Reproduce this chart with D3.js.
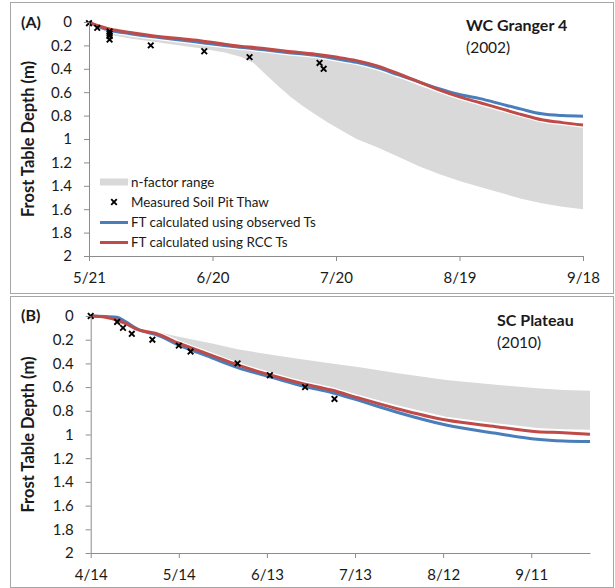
<!DOCTYPE html>
<html><head><meta charset="utf-8">
<script src="https://cdn.jsdelivr.net/npm/d3@7"></script>
<style>
body{margin:0;background:#fff}
text{font-family:Lato,'Open Sans',sans-serif;fill:#1a1a1a}
</style>
</head><body>
<svg id="c" width="615" height="588"></svg>
<script>
// ---------- Panel A: WC Granger 4 (2002) ----------
const aTickLabels = ["2002-05-21","2002-06-20","2002-07-20","2002-08-19","2002-09-18"];
const aLineDates = ["2002-05-21","2002-05-23","2002-05-26","2002-05-31","2002-06-05","2002-06-10","2002-06-17","2002-06-25","2002-07-02","2002-07-08","2002-07-15","2002-07-20","2002-07-25","2002-07-30","2002-08-04","2002-08-09","2002-08-14","2002-08-19","2002-08-24","2002-08-29","2002-09-03","2002-09-08","2002-09-13","2002-09-18"];
const aObservedTs = [0,0.035,0.07,0.10,0.125,0.145,0.175,0.21,0.235,0.26,0.285,0.315,0.345,0.39,0.45,0.51,0.57,0.62,0.655,0.70,0.745,0.785,0.80,0.805];
const aRccTs      = [0,0.03,0.06,0.09,0.115,0.135,0.16,0.20,0.225,0.25,0.275,0.30,0.33,0.375,0.44,0.51,0.58,0.64,0.69,0.74,0.79,0.835,0.86,0.88];
const aBandDates = ["2002-05-21","2002-05-26","2002-05-31","2002-06-05","2002-06-10","2002-06-17","2002-06-23","2002-06-27","2002-06-30","2002-07-03","2002-07-06","2002-07-09","2002-07-12","2002-07-15","2002-07-18","2002-07-22","2002-07-25","2002-07-30","2002-08-04","2002-08-09","2002-08-14","2002-08-19","2002-08-24","2002-08-29","2002-09-03","2002-09-08","2002-09-13","2002-09-18"];
const aBandUpper = [0,0.09,0.12,0.14,0.16,0.19,0.215,0.23,0.24,0.252,0.262,0.272,0.283,0.295,0.31,0.34,0.36,0.41,0.47,0.54,0.60,0.66,0.71,0.76,0.81,0.85,0.875,0.895];
const aBandLower = [0,0.11,0.14,0.165,0.19,0.225,0.26,0.30,0.35,0.45,0.55,0.64,0.72,0.79,0.86,0.94,1.0,1.07,1.15,1.23,1.30,1.36,1.41,1.46,1.51,1.55,1.58,1.60];
const aPitDates  = ["2002-05-21","2002-05-23","2002-05-26","2002-05-26","2002-05-26","2002-05-26","2002-06-05","2002-06-18","2002-06-29","2002-07-16","2002-07-17"];
const aPitDepths = [0.01,0.05,0.08,0.10,0.12,0.15,0.20,0.25,0.30,0.35,0.40];

// ---------- Panel B: SC Plateau (2010) ----------
const bTickLabels = ["2010-04-14","2010-05-14","2010-06-13","2010-07-13","2010-08-12","2010-09-11"];
const bDomainEnd = "2010-10-01";
const bLineDates = ["2010-04-14","2010-04-19","2010-04-23","2010-04-26","2010-04-30","2010-05-02","2010-05-06","2010-05-14","2010-05-25","2010-06-03","2010-06-15","2010-06-26","2010-07-05","2010-07-14","2010-07-27","2010-08-13","2010-08-30","2010-09-13","2010-09-22","2010-10-01"];
const bObservedTs = [0,0.005,0.01,0.05,0.11,0.13,0.155,0.245,0.35,0.435,0.52,0.595,0.645,0.71,0.81,0.92,0.99,1.04,1.055,1.06];
const bRccTs      = [0,0.01,0.034,0.065,0.115,0.127,0.146,0.23,0.33,0.413,0.504,0.575,0.625,0.69,0.78,0.878,0.934,0.976,0.985,0.998];
const bBandUpper  = [0,0.01,0.02,0.04,0.09,0.11,0.13,0.175,0.23,0.28,0.33,0.37,0.40,0.43,0.48,0.54,0.58,0.61,0.625,0.63];
const bBandLower  = [0,0.03,0.06,0.09,0.12,0.13,0.14,0.22,0.32,0.40,0.49,0.555,0.60,0.665,0.75,0.85,0.905,0.945,0.955,0.96];
const bPitDates  = ["2010-04-14","2010-04-23","2010-04-25","2010-04-28","2010-05-05","2010-05-14","2010-05-18","2010-06-03","2010-06-14","2010-06-26","2010-07-06"];
const bPitDepths = [0,0.05,0.10,0.15,0.20,0.25,0.30,0.40,0.50,0.60,0.70];

const depthTicks = [0,0.2,0.4,0.6,0.8,1,1.2,1.4,1.6,1.8,2];
const legendLabels = ["n-factor range","Measured Soil Pit Thaw","FT calculated using observed Ts","FT calculated using RCC Ts"];

const COL_BLUE = "#4a7ebb", COL_RED = "#be4b48", COL_BAND = "#d9d9d9", COL_AXIS = "#8c8c8c";
const parse = d3.timeParse("%Y-%m-%d");
const svg = d3.select("#c");

function drawPanel(o) {
  const g = svg.append("g");
  g.append("rect").attr("x", o.box[0]+0.5).attr("y", o.box[1]+0.5)
    .attr("width", o.box[2]).attr("height", o.box[3])
    .attr("fill", "#fff").attr("stroke", "#a6a6a6").attr("stroke-width", 1);

  const ticks = o.ticks.map(parse);
  const x = d3.scaleTime().domain([ticks[0], parse(o.domainEnd)]).range(o.xr);
  const y = d3.scaleLinear().domain([0, 2]).range(o.yr);

  const band = o.bandDates.map((d, i) => ({d: parse(d), u: o.bandUpper[i], l: o.bandLower[i]}));
  g.append("path").datum(band).attr("fill", COL_BAND)
    .attr("d", d3.area().x(p => x(p.d)).y0(p => y(p.u)).y1(p => y(p.l)));

  const mk = vals => o.lineDates.map((d, i) => ({d: parse(d), v: vals[i]}));
  const line = d3.line().x(p => x(p.d)).y(p => y(p.v)).curve(d3.curveMonotoneX);
  const series = [{v: o.obs, c: COL_BLUE}, {v: o.rcc, c: COL_RED}];
  series.forEach(s => g.append("path").datum(mk(s.v)).attr("fill", "none")
    .attr("stroke", "#fff").attr("stroke-width", 5.5).attr("d", line));
  series.forEach(s => g.append("path").datum(mk(s.v)).attr("fill", "none")
    .attr("stroke", s.c).attr("stroke-width", 3).attr("stroke-linejoin", "round").attr("d", line));

  const xs = 2.8;
  g.selectAll(".pit").data(o.pitDates.map((d, i) => ({d: parse(d), v: o.pitDepths[i]})))
    .join("path").attr("fill", "none").attr("stroke", "#000").attr("stroke-width", 1.9)
    .attr("d", p => {const cx = x(p.d), cy = y(p.v);
      return `M${cx-xs},${cy-xs}L${cx+xs},${cy+xs}M${cx-xs},${cy+xs}L${cx+xs},${cy-xs}`;});

  const xa = g.append("g").attr("transform", `translate(0,${o.yr[1]})`)
    .call(d3.axisBottom(x).tickValues(ticks).tickFormat(d3.timeFormat("%-m/%-d"))
      .tickSize(5).tickSizeOuter(0).tickPadding(11));
  const ya = g.append("g").attr("transform", `translate(${o.xr[0]},0)`)
    .call(d3.axisLeft(y).tickValues(depthTicks).tickFormat(d => String(+d.toFixed(1)))
      .tickSize(5).tickSizeOuter(0).tickPadding(12));
  [xa, ya].forEach(a => {
    a.select(".domain").attr("stroke", COL_AXIS);
    a.selectAll(".tick line").attr("stroke", COL_AXIS);
    a.selectAll(".tick text").attr("font-size", 15).attr("font-family", "Lato").attr("fill", "#1a1a1a");
  });

  g.append("text").attr("transform", `translate(34,${(o.yr[0]+o.yr[1])/2}) rotate(-90)`)
    .attr("text-anchor", "middle").attr("font-weight", "bold").attr("font-size", 16.5)
    .text("Frost Table Depth (m)");
  g.append("text").attr("x", 21).attr("y", o.panelY).attr("font-weight", "bold").attr("font-size", 16)
    .text(o.panel);
  g.append("text").attr("x", o.siteX).attr("y", o.siteY).attr("font-weight", "bold").attr("font-size", 16)
    .text(o.site);
  g.append("text").attr("x", o.siteX).attr("y", o.siteY + 22).attr("font-size", 15.5)
    .text(o.year);
  return {g, x, y};
}

drawPanel({box: [10, 2, 603, 291], ticks: aTickLabels, domainEnd: "2002-09-18",
  xr: [89, 583], yr: [22, 256], lineDates: aLineDates, obs: aObservedTs, rcc: aRccTs,
  bandDates: aBandDates, bandUpper: aBandUpper, bandLower: aBandLower,
  pitDates: aPitDates, pitDepths: aPitDepths, panel: "(A)", panelY: 28,
  site: "WC Granger 4", year: "(2002)", siteX: 466, siteY: 31});

drawPanel({box: [10, 296, 603, 291], ticks: bTickLabels, domainEnd: bDomainEnd,
  xr: [90.7, 590], yr: [316, 553], lineDates: bLineDates, obs: bObservedTs, rcc: bRccTs,
  bandDates: bLineDates, bandUpper: bBandUpper, bandLower: bBandLower,
  pitDates: bPitDates, pitDepths: bPitDepths, panel: "(B)", panelY: 321,
  site: "SC Plateau", year: "(2010)", siteX: 497, siteY: 326});

const lg = svg.append("g").attr("transform", "translate(100,0)");
const rows = [182, 202, 222.5, 242.5];
lg.append("rect").attr("x", 0).attr("y", rows[0]-3.5).attr("width", 28).attr("height", 7).attr("fill", COL_BAND);
lg.append("path").attr("stroke", "#000").attr("stroke-width", 1.9).attr("fill", "none")
  .attr("d", `M${14-2.8},${rows[1]-2.8}L${14+2.8},${rows[1]+2.8}M${14-2.8},${rows[1]+2.8}L${14+2.8},${rows[1]-2.8}`);
lg.append("line").attr("x1", 0).attr("x2", 28).attr("y1", rows[2]).attr("y2", rows[2]).attr("stroke", COL_BLUE).attr("stroke-width", 3);
lg.append("line").attr("x1", 0).attr("x2", 28).attr("y1", rows[3]).attr("y2", rows[3]).attr("stroke", COL_RED).attr("stroke-width", 3);
lg.selectAll(".lt").data(legendLabels).join("text").attr("x", 31).attr("y", (d, i) => rows[i] + 4.5)
  .attr("font-size", 13.4).text(d => d);
</script>
</body></html>
